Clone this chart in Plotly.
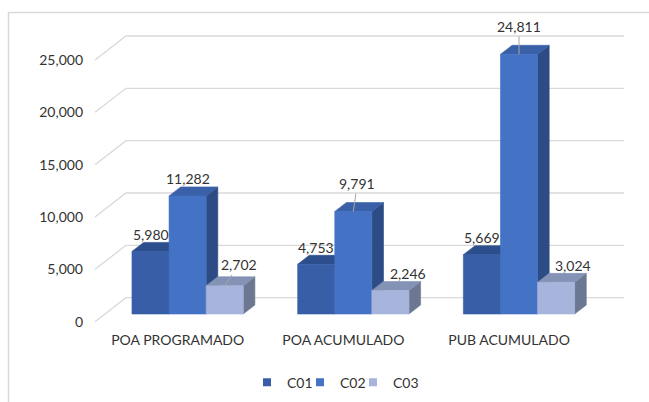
import plotly.graph_objects as go

# ---------------- data ----------------
categories = ["POA PROGRAMADO", "POA ACUMULADO", "PUB ACUMULADO"]
series_names = ["C01", "C02", "C03"]
c01 = [5980, 4753, 5669]
c02 = [11282, 9791, 24811]
c03 = [2702, 2246, 3024]
y_ticks = [0, 5000, 10000, 15000, 20000, 25000]

# ---------------- style ----------------
FRONT = ["#375EA6", "#4472C4", "#A7B5DC"]
TOP = ["#2D4E8C", "#3A61A8", "#8492B6"]
SIDE = ["#284579", "#2D4B84", "#6C7891"]
GRID = "#D9D9D9"
TXT = "#333333"
FONT = "Lato"

# label offsets in pixels (dx, dy) and whether a leader line is drawn
LABEL_OFFSETS = [
    [(0, -17, False), (0, -17, False), (0, -17, False)],
    [(0, -17, False), (4, -28, True), (0, -28, True)],
    [(14, -21, True), (18, -17, False), (17, -17, False)],
]
LEGEND_WIDTHS = [8, 8, 26]

# pseudo-3D geometry (x in category units, y in value units)
PX_PER_CAT = 165.7
PX_PER_VAL = 0.010468
DEPTH_X = 31 / PX_PER_CAT
DEPTH_Y = 24 / PX_PER_VAL
F_FRONT = 0.32
F_BACK = 0.695
BAR_W = 37.1 / PX_PER_CAT
X_LEFT = (95 - 177.7) / PX_PER_CAT
X_RIGHT = (624 - 177.7) / PX_PER_CAT
X_RANGE = [-(177.7 - 90) / PX_PER_CAT, -(177.7 - 90) / PX_PER_CAT + 540 / PX_PER_CAT]
Y_RANGE = [-(330 - 321.7) / PX_PER_VAL, (321.7 - 30) / PX_PER_VAL]

values = [c01, c02, c03]
fig = go.Figure()

# back wall grid + diagonal floor/wall connectors
gx, gy = [], []
for v in y_ticks:
    gx += [X_LEFT, X_LEFT + DEPTH_X, X_RIGHT, None]
    gy += [v, v + DEPTH_Y, v + DEPTH_Y, None]
fig.add_trace(go.Scatter(x=gx, y=gy, mode="lines", line=dict(color=GRID, width=1.3),
                         hoverinfo="skip", showlegend=False))

bx = (F_BACK - F_FRONT) * DEPTH_X
by = (F_BACK - F_FRONT) * DEPTH_Y
base = F_FRONT * DEPTH_Y

annotations = []
for j, vals in enumerate(values):
    side_x, side_y, top_x, top_y, fr_x, fr_y = [], [], [], [], [], []
    for i, v in enumerate(vals):
        cx = i + F_FRONT * DEPTH_X + (j - 1) * BAR_W
        xl, xr = cx - BAR_W / 2, cx + BAR_W / 2
        t = base + v
        side_x += [xr, xr + bx, xr + bx, xr, xr, None]
        side_y += [base, base + by, t + by, t, base, None]
        top_x += [xl, xr, xr + bx, xl + bx, xl, None]
        top_y += [t, t, t + by, t + by, t, None]
        fr_x += [xl, xr, xr, xl, xl, None]
        fr_y += [base, base, t, t, base, None]
        dxp, dyp, leader = LABEL_OFFSETS[j][i]
        if leader:
            annotations.append(dict(x=cx, y=t, xref="x", yref="y", text=f"{v:,}",
                                    showarrow=True, arrowhead=0, arrowwidth=1,
                                    arrowcolor="#A6A6A6", ax=dxp, ay=dyp,
                                    font=dict(family=FONT, size=14, color=TXT)))
        else:
            annotations.append(dict(x=cx, y=t, xref="x", yref="y", text=f"{v:,}",
                                    showarrow=False, xshift=dxp, yshift=-dyp,
                                    font=dict(family=FONT, size=14, color=TXT)))
    for xs, ys, col in [(side_x, side_y, SIDE[j]), (top_x, top_y, TOP[j]), (fr_x, fr_y, FRONT[j])]:
        fig.add_trace(go.Scatter(x=xs, y=ys, mode="lines", fill="toself", fillcolor=col,
                                 line=dict(color=col, width=0.6), hoverinfo="skip",
                                 showlegend=False))

# legend entries
for j, name in enumerate(series_names):
    fig.add_trace(go.Scatter(x=[None], y=[None], mode="markers", name=name,
                             legendwidth=LEGEND_WIDTHS[j],
                             marker=dict(symbol="square", size=8, color=FRONT[j])))

fig.update_layout(
    width=649, height=402,
    margin=dict(l=90, r=19, t=30, b=72, autoexpand=False),
    paper_bgcolor="white", plot_bgcolor="white",
    font=dict(family=FONT, size=14, color=TXT),
    xaxis=dict(range=X_RANGE, tickvals=list(range(len(categories))), ticktext=categories,
               showgrid=False, zeroline=False, showline=False, ticks="",
               fixedrange=True, automargin=False),
    yaxis=dict(range=Y_RANGE, tickvals=y_ticks, tickformat=",", showgrid=False,
               zeroline=False, showline=False, ticks="", ticklabelstandoff=6,
               fixedrange=True, automargin=False),
    showlegend=True,
    legend=dict(orientation="h", x=(247 - 90) / 540, xanchor="left",
                y=(330 - 382.7) / 300, yanchor="middle",
                font=dict(family=FONT, size=14, color=TXT), itemwidth=30,
                bgcolor="rgba(0,0,0,0)"),
    annotations=annotations,
    shapes=[dict(type="rect", xref="paper", yref="paper",
                 x0=(8.5 - 90) / 540, x1=(700 - 90) / 540,
                 y0=(330 - 450) / 300, y1=(330 - 12.5) / 300,
                 line=dict(color="#D9D9D9", width=1.5), layer="below")],
)

fig.write_html("out.html", config={"displayModeBar": False},
               post_script="document.body.style.margin='0';document.body.style.overflow='hidden';")
